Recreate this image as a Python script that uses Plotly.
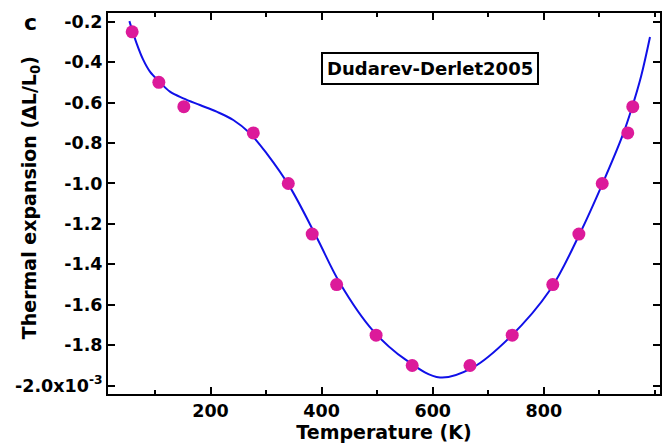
import plotly.graph_objects as go

# Measured data points (Temperature K, thermal expansion in units of 1e-3)
temp_pts = [59, 107, 152, 277, 340, 383, 427, 498, 563, 667, 743, 816, 863, 905, 951, 960]
exp_pts = [-0.25, -0.50, -0.62, -0.75, -1.00, -1.25, -1.50, -1.75, -1.90, -1.90, -1.75, -1.50, -1.25, -1.00, -0.75, -0.62]

# Fitted curve
temp_fit = [54, 67, 79, 91, 108, 127, 151, 181, 211, 241, 271, 301, 343, 391, 433, 492, 553, 613,
            672, 739, 811, 865, 906, 942, 958, 975, 991]
exp_fit = [-0.197, -0.307, -0.389, -0.447, -0.497, -0.546, -0.579, -0.612, -0.645, -0.686, -0.752,
           -0.851, -1.018, -1.266, -1.493, -1.726, -1.875, -1.959, -1.910, -1.760, -1.527, -1.246,
           -0.998, -0.760, -0.630, -0.470, -0.276]

y_ticks = [-0.2, -0.4, -0.6, -0.8, -1.0, -1.2, -1.4, -1.6, -1.8, -2.0]
y_ticktext = ["-0.2", "-0.4", "-0.6", "-0.8", "-1.0", "-1.2", "-1.4", "-1.6", "-1.8",
              "-2.0x10<sup>-3</sup>"]
x_ticks = [200, 400, 600, 800]

FONT = "DejaVu Sans"

fig = go.Figure()
fig.add_trace(go.Scatter(
    x=temp_fit, y=exp_fit, mode="lines",
    line=dict(color="#1010E8", width=2, shape="spline", smoothing=1.0),
    showlegend=False, hoverinfo="skip"))
fig.add_trace(go.Scatter(
    x=temp_pts, y=exp_pts, mode="markers",
    marker=dict(color="#DC1A9A", size=13, line=dict(width=0)),
    showlegend=False))

axis_common = dict(
    showline=True, linecolor="black", linewidth=2, mirror="allticks",
    ticks="inside", tickcolor="black", tickwidth=2, ticklen=7,
    showgrid=False, zeroline=False, automargin=False,
    tickfont=dict(family=FONT, size=17.5, color="black", weight="bold"),
)

fig.update_xaxes(
    range=[15.5, 1009], tickvals=x_ticks,
    minor=dict(ticks="inside", dtick=100, tick0=0, ticklen=4, tickwidth=2, tickcolor="black", showgrid=False),
    title=dict(text="Temperature (K)", font=dict(family=FONT, size=19, color="black", weight="bold"), standoff=4),
    **axis_common)
fig.update_yaxes(
    range=[-2.041, -0.157], tickvals=y_ticks, ticktext=y_ticktext,
    **axis_common)

fig.add_annotation(
    text="Thermal expansion (ΔL/L<sub>0</sub>)", xref="paper", yref="paper",
    x=-0.1413, y=0.514, xanchor="center", yanchor="middle", textangle=-90,
    showarrow=False, font=dict(family=FONT, size=19, color="black", weight="bold"))
fig.add_annotation(
    text="Dudarev-Derlet2005", xref="paper", yref="paper", x=0.583, y=0.898,
    showarrow=False, font=dict(family=FONT, size=18, color="black", weight="bold"),
    bordercolor="black", borderwidth=2, borderpad=4, bgcolor="white")
fig.add_annotation(
    text="c", xref="paper", yref="paper", x=-0.1413, y=0.976, xanchor="center", yanchor="middle",
    showarrow=False, font=dict(family=FONT, size=22, color="black", weight="bold"))

fig.update_layout(
    width=663, height=448,
    margin=dict(l=108, r=3, t=13, b=54),
    paper_bgcolor="white", plot_bgcolor="white",
)

fig.write_html("out.html")
